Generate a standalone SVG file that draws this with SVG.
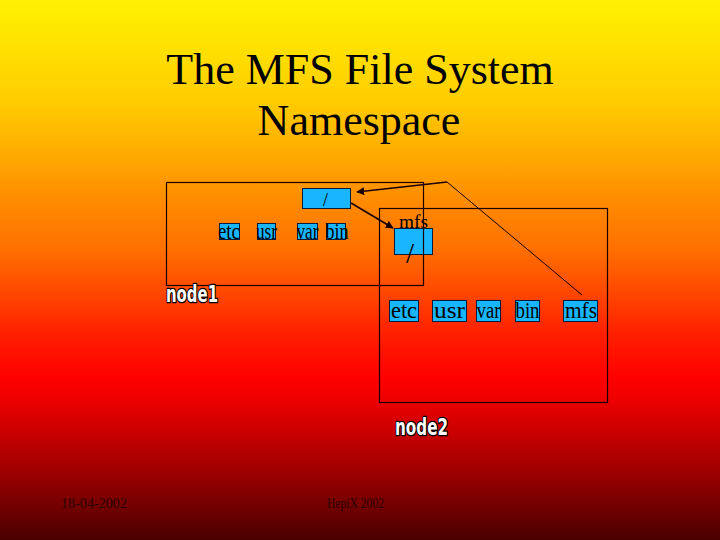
<svg xmlns="http://www.w3.org/2000/svg" width="720" height="540" viewBox="0 0 720 540">
<defs>
<linearGradient id="bg" x1="0" y1="0" x2="0" y2="1">
<stop offset="0" stop-color="#FFF200"/>
<stop offset="0.19" stop-color="#FFCC00"/>
<stop offset="0.37" stop-color="#FF8C00"/>
<stop offset="0.46" stop-color="#FF7000"/>
<stop offset="0.556" stop-color="#FF4000"/>
<stop offset="0.617" stop-color="#FF2000"/>
<stop offset="0.70" stop-color="#FF0000"/>
<stop offset="0.74" stop-color="#EE0000"/>
<stop offset="0.87" stop-color="#A00000"/>
<stop offset="1" stop-color="#4A0000"/>
</linearGradient>
<marker id="ah" viewBox="0 0 10 10" refX="9" refY="5" markerWidth="8" markerHeight="8" markerUnits="userSpaceOnUse" orient="auto">
<path d="M0,0 L10,5 L0,10 z" fill="#1a0000"/>
</marker>
<style>
.title{font-family:"Liberation Serif","Times New Roman",serif;font-size:44px;fill:#000;text-anchor:middle}
.frame{fill:none;stroke:#1a0000;stroke-width:1.2}
.box{fill:#19B5FE;stroke:#0a1a3a;stroke-width:1}
.lbl{font-family:"Liberation Serif","Times New Roman",serif;fill:#000}
.node{font-family:"DejaVu Sans Condensed","DejaVu Sans",sans-serif;font-weight:bold;font-size:23px;fill:#fff;stroke:#000;stroke-width:2.6;paint-order:stroke;stroke-linejoin:round}
.foot{font-family:"Liberation Serif","Times New Roman",serif;font-size:14px;fill:#2a0000}
.conn{fill:none;stroke:#1a0000}
</style>
</defs>
<rect width="720" height="540" fill="url(#bg)"/>
<g id="title">
<text class="title" x="360" y="84">The MFS File System</text>
<text class="title" x="359" y="135">Namespace</text>
</g>
<g id="node2">
<rect class="frame" x="379.5" y="208.5" width="228" height="194"/>
<text class="node" x="395" y="435" textLength="53" lengthAdjust="spacingAndGlyphs">node2</text>
</g>
<g id="node2-mount">
<text class="lbl" x="399" y="228" font-size="19" textLength="29" lengthAdjust="spacingAndGlyphs">mfs</text>
<rect class="box" x="394.5" y="228.5" width="38" height="26"/>
<text class="lbl" x="406" y="263" font-size="29">/</text>
</g>
<g id="node2-etc"><rect class="box" x="389.5" y="300.5" width="29" height="21"/><text class="lbl" x="391" y="318" font-size="23" textLength="26" lengthAdjust="spacingAndGlyphs">etc</text></g>
<g id="node2-usr"><rect class="box" x="432.5" y="300.5" width="34" height="21"/><text class="lbl" x="434" y="318" font-size="23" textLength="31" lengthAdjust="spacingAndGlyphs">usr</text></g>
<g id="node2-var"><rect class="box" x="476.5" y="300.5" width="24" height="21"/><text class="lbl" x="476.5" y="318" font-size="23" textLength="24" lengthAdjust="spacingAndGlyphs">var</text></g>
<g id="node2-bin"><rect class="box" x="515.5" y="300.5" width="24" height="21"/><text class="lbl" x="515.5" y="318" font-size="23" textLength="24" lengthAdjust="spacingAndGlyphs">bin</text></g>
<g id="node2-mfs"><rect class="box" x="563.5" y="300.5" width="34" height="21"/><text class="lbl" x="565" y="318" font-size="23" textLength="32" lengthAdjust="spacingAndGlyphs">mfs</text></g>
<g id="node1">
<rect class="frame" x="166.5" y="182.5" width="257" height="103"/>
<text class="node" x="166" y="302" textLength="52" lengthAdjust="spacingAndGlyphs">node1</text>
</g>
<g id="node1-root"><rect class="box" x="302.5" y="188.5" width="48" height="20"/><text class="lbl" x="323" y="206" font-size="18">/</text></g>
<g id="node1-etc"><rect class="box" x="219.5" y="223.5" width="20" height="16"/><text class="lbl" x="218" y="239" font-size="24" textLength="22" lengthAdjust="spacingAndGlyphs">etc</text></g>
<g id="node1-usr"><rect class="box" x="257.5" y="223.5" width="18" height="16"/><text class="lbl" x="256" y="239" font-size="24" textLength="21" lengthAdjust="spacingAndGlyphs">usr</text></g>
<g id="node1-var"><rect class="box" x="297.5" y="223.5" width="20" height="16"/><text class="lbl" x="296.5" y="239" font-size="24" textLength="22" lengthAdjust="spacingAndGlyphs">var</text></g>
<g id="node1-bin"><rect class="box" x="326.5" y="223.5" width="19" height="16"/><text class="lbl" x="325.5" y="239" font-size="24" textLength="23" lengthAdjust="spacingAndGlyphs">bin</text></g>
<g id="connectors">
<line class="conn" stroke-width="1.6" x1="351" y1="203" x2="393" y2="228" marker-end="url(#ah)"/>
<line class="conn" stroke-width="1" x1="582" y1="295" x2="447" y2="182"/>
<line class="conn" stroke-width="1.6" x1="447" y1="182" x2="357" y2="192" marker-end="url(#ah)"/>
</g>
<g id="footer">
<text class="foot" x="61" y="508" textLength="66" lengthAdjust="spacingAndGlyphs">18-04-2002</text>
<text class="foot" x="327" y="508" textLength="57" lengthAdjust="spacingAndGlyphs">HepiX 2002</text>
</g>
</svg>
